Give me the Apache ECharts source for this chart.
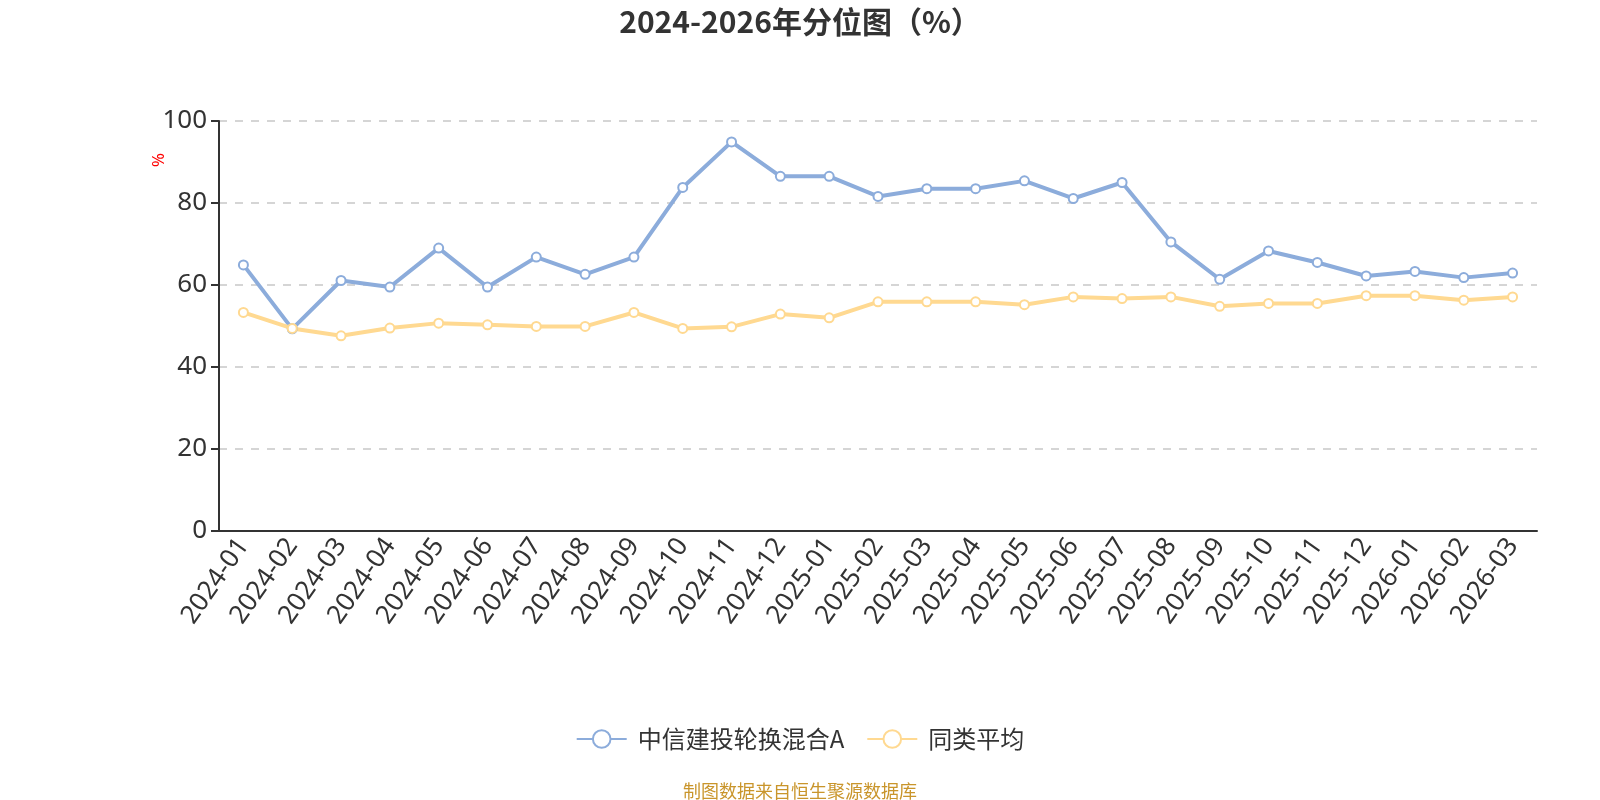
<!DOCTYPE html>
<html>
<head>
<meta charset="utf-8">
<script src="https://cdn.jsdelivr.net/npm/echarts@6/dist/echarts.min.js"></script>
<style>
  html, body { margin: 0; padding: 0; background: #fff; }
  #echart { width: 1600px; height: 800px; }
</style>
</head>
<body>
<div id="echart"></div>
<script>
// months on the x axis
var months = ['2024-01','2024-02','2024-03','2024-04','2024-05','2024-06','2024-07','2024-08','2024-09',
  '2024-10','2024-11','2024-12','2025-01','2025-02','2025-03','2025-04','2025-05','2025-06','2025-07',
  '2025-08','2025-09','2025-10','2025-11','2025-12','2026-01','2026-02','2026-03'];

// fund percentile
var fundValues = [64.9, 49.3, 61.1, 59.5, 69.0, 59.5, 66.8, 62.6, 66.8,
  83.8, 94.9, 86.5, 86.5, 81.6, 83.5, 83.5, 85.4, 81.1, 85.0,
  70.5, 61.4, 68.3, 65.5, 62.2, 63.3, 61.8, 62.9];

// category average
var avgValues = [53.3, 49.4, 47.6, 49.5, 50.7, 50.3, 49.9, 49.9, 53.3,
  49.4, 49.8, 52.9, 52.0, 55.9, 55.9, 55.9, 55.2, 57.1, 56.7,
  57.1, 54.8, 55.5, 55.5, 57.4, 57.4, 56.3, 57.1];

var yTicks = [0, 20, 40, 60, 80, 100];
var seriesNames = ['中信建投轮换混合A', '同类平均'];

function echartLine(){
	if( typeof (echarts) === 'undefined'){ console.log('echarts is undefined'); return; }
	var echart = echarts.init(document.getElementById('echart'));
	var font = '"Noto Sans CJK SC", "Noto Sans", sans-serif';
	var numFont = '"Noto Sans", sans-serif';
	echart.setOption({
		animation: false,
		textStyle: { fontFamily: font },
		title: [{
			text: '2024-2026年分位图（%）',
			left: 'center',
			top: 2,
			textStyle: { fontSize: 30, fontWeight: 'bold', color: '#333', fontFamily: font }
		}, {
			text: '制图数据来自恒生聚源数据库',
			left: 'center',
			top: 777,
			textStyle: { fontSize: 18, fontWeight: 'normal', color: '#C9952B', fontFamily: font }
		}],
		graphic: [{
			type: 'text',
			x: 165,
			y: 153,
			rotation: -Math.PI / 2,
			style: { text: '%', fill: '#ff0000', fontSize: 17, fontFamily: numFont }
		}],
		legend: {
			bottom: 44,
			left: 'center',
			itemWidth: 50,
			itemHeight: 22,
			itemGap: 22,
			textStyle: { fontSize: 24, color: '#333', padding: [0, 0, 0, 6] },
			data: seriesNames
		},
		grid: {
			left: 219,
			right: 63,
			top: 121,
			bottom: 269,
			containLabel: false
		},
		xAxis: {
			type: 'category',
			boundaryGap: true,
			data: months,
			axisLine: { lineStyle: { color: '#333', width: 2 } },
			axisTick: { length: 8, lineStyle: { width: 2 } },
			axisLabel: { rotate: 55, fontSize: 26, color: '#333', margin: 10, interval: 0, fontFamily: numFont }
		},
		yAxis: {
			type: 'value',
			min: yTicks[0],
			max: yTicks[yTicks.length - 1],
			interval: 20,
			axisLine: { show: true, lineStyle: { color: '#333', width: 2 } },
			axisTick: { show: true, length: 8, lineStyle: { width: 2 } },
			axisLabel: { fontSize: 26, color: '#333', margin: 12, fontFamily: numFont },
			splitLine: { lineStyle: { type: [8, 8], color: '#c8c8c8', width: 1.5 } }
		},
		series: [
			{
				name: seriesNames[0],
				type: 'line',
				data: fundValues,
				color: '#8CACDB',
				symbol: 'emptyCircle',
				symbolSize: 9,
				lineStyle: { width: 4 },
				itemStyle: { borderWidth: 2 }
			},
			{
				name: seriesNames[1],
				type: 'line',
				data: avgValues,
				color: '#FFD991',
				symbol: 'emptyCircle',
				symbolSize: 9,
				lineStyle: { width: 4 },
				itemStyle: { borderWidth: 2 }
			}
		]
	});
}
echartLine();
</script>
</body>
</html>
